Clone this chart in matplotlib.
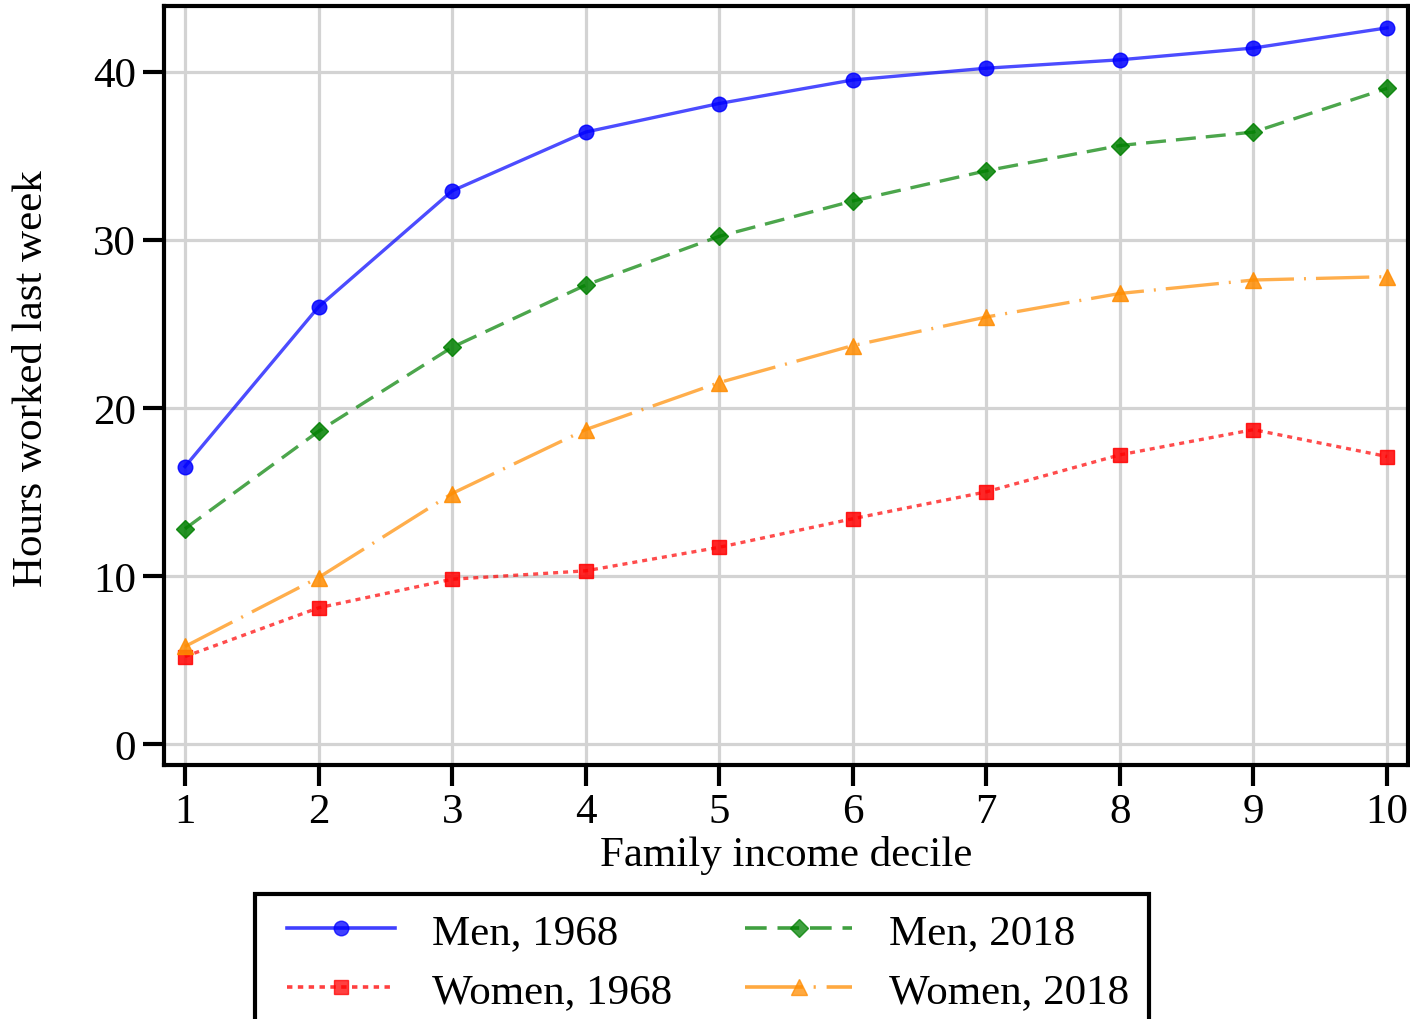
import numpy as np
import matplotlib
matplotlib.use("Agg")
import matplotlib.pyplot as plt
from matplotlib.lines import Line2D

# data
deciles = [1, 2, 3, 4, 5, 6, 7, 8, 9, 10]
men_1968 = [16.5, 26.0, 32.9, 36.4, 38.1, 39.5, 40.2, 40.7, 41.4, 42.6]
men_2018 = [12.8, 18.6, 23.6, 27.3, 30.2, 32.3, 34.1, 35.6, 36.4, 39.0]
women_1968 = [5.2, 8.1, 9.8, 10.3, 11.7, 13.4, 15.0, 17.2, 18.7, 17.1]
women_2018 = [5.8, 9.9, 14.9, 18.7, 21.5, 23.7, 25.4, 26.8, 27.6, 27.8]

y_ticks = [0, 10, 20, 30, 40]

plt.rcParams['font.family'] = ['Liberation Serif', 'DejaVu Serif']
FS = 31

fig = plt.figure(figsize=(14.1, 10.2), dpi=100)
ax = fig.add_axes([164 / 1410, 1 - 766 / 1020, (1408 - 164) / 1410, (766 - 7) / 1020])

series = {
    'Men, 1968': (men_1968, 'blue', 'o', 10.5, None),
    'Men, 2018': (men_2018, 'green', 'D', 9.5, (6, 3)),
    'Women, 1968': (women_1968, 'red', 's', 10.5, (1.5, 1.5)),
    'Women, 2018': (women_2018, 'darkorange', '^', 11.5, (16, 3, 0.6, 3)),
}

handles = {}
for lab, (vals, col, mk, ms, dash) in series.items():
    ln, = ax.plot(deciles, vals, color=col, lw=2.4, alpha=0.7, zorder=3)
    if dash is not None:
        ln.set_dashes(dash)
    ax.plot(deciles, vals, ls='none', marker=mk, ms=ms, color=col, alpha=0.85, zorder=4)
    h = Line2D([], [], color=col, lw=2.6, alpha=0.75, marker=mk, ms=ms)
    if dash is not None:
        h.set_dashes(dash)
    handles[lab] = h

ax.set_xlim(0.843, 10.157)
ax.set_ylim(-1.25, 43.9)
ax.set_xticks(deciles)
ax.set_yticks(y_ticks)
ax.grid(True, color='#d3d3d3', lw=2.3, zorder=0)
ax.set_axisbelow(True)
for s in ax.spines.values():
    s.set_linewidth(3)
    s.set_color('black')
ax.tick_params(direction='out', length=15, width=3, pad=5, labelsize=FS)

ax.set_xlabel('Family income decile', fontsize=FS, va='center')
ax.xaxis.set_label_coords(0.5, -0.1175)
ax.set_ylabel('Hours worked last week', fontsize=FS, va='center')
ax.yaxis.set_label_coords(-0.106, 0.51)

# column-wise fill: men on the first row, women on the second
order = ['Men, 1968', 'Women, 1968', 'Men, 2018', 'Women, 2018']
leg = fig.legend([handles[k] for k in order], order,
                 loc='upper left', bbox_to_anchor=(255 / 1410, 1 - 895 / 1020),
                 ncol=2, fontsize=FS, frameon=True, fancybox=False,
                 edgecolor='black', framealpha=1, handlelength=3.1,
                 columnspacing=1.4, handletextpad=0.55, borderpad=0.45,
                 labelspacing=0.45, numpoints=3, borderaxespad=0)
leg.get_frame().set_linewidth(3)
# keep only the middle marker in the legend handles
for lh in leg.legend_handles:
    lh.set_markevery([1])

fig.savefig('out.png', dpi=100)
